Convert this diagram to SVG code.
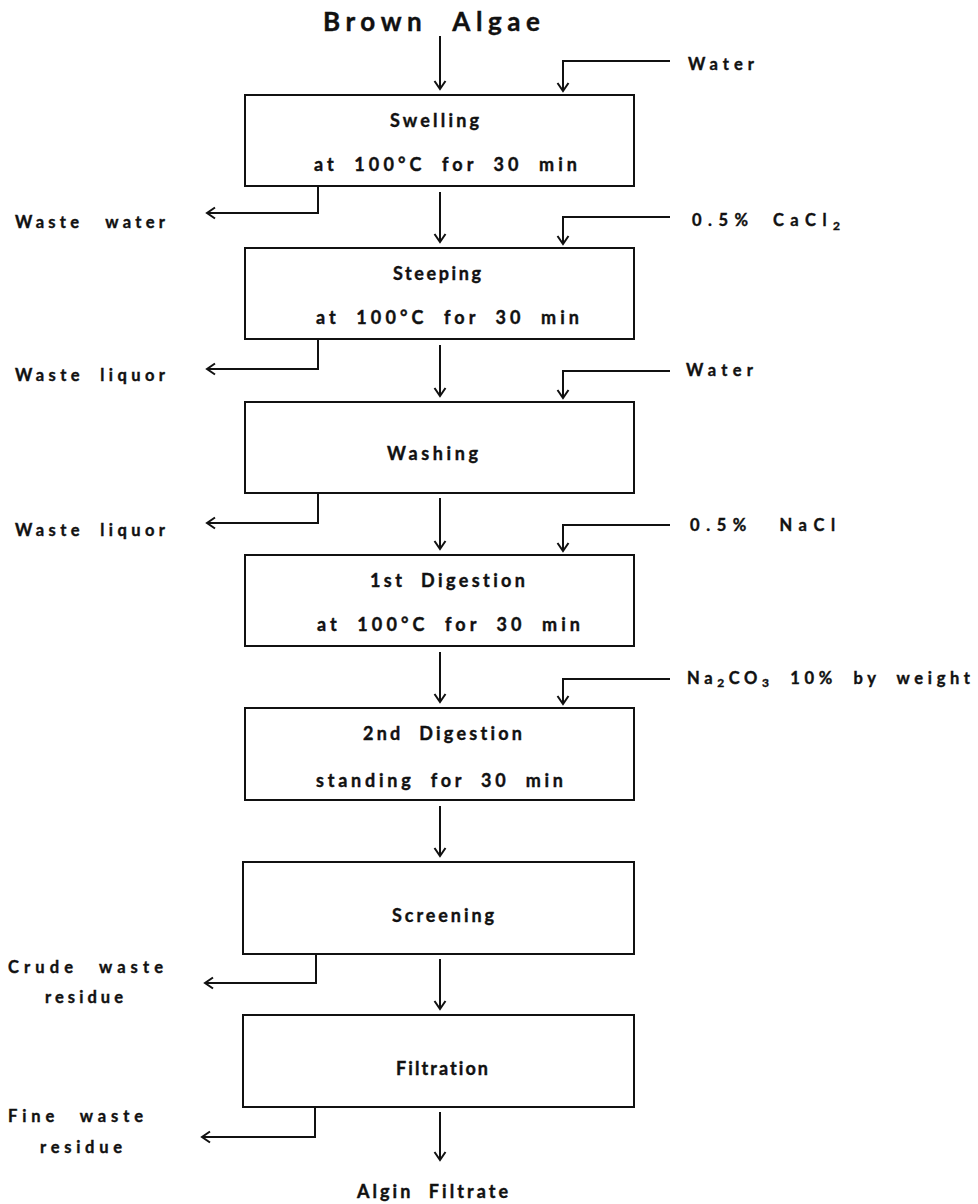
<svg xmlns="http://www.w3.org/2000/svg" width="978" height="1204" viewBox="0 0 978 1204">
<style>
text{font-family:Lato,"DejaVu Sans",sans-serif;font-weight:bold;fill:#111;stroke:#111;stroke-width:0.4;word-spacing:8px;font-variant-ligatures:none;font-feature-settings:"liga" 0,"dlig" 0;}
.t{font-size:18px;}
.s{font-size:16.5px;}
.big{font-size:26px;word-spacing:14px;}
.box{fill:#fff;stroke:#111;stroke-width:2;}
.ln{fill:none;stroke:#111;stroke-width:2;}
.sub{font-size:12px;}
</style>
<defs>
<marker id="ah" viewBox="-10 -7 12 14" refX="0" refY="0" markerWidth="12" markerHeight="14" markerUnits="userSpaceOnUse" orient="auto">
<path d="M -8 -5.5 L 0 0 L -8 5.5" fill="none" stroke="#111" stroke-width="2"/>
</marker>
</defs>
<rect width="978" height="1204" fill="#fff"/>
<text id="src" class="big" x="323" y="31" textLength="217">Brown Algae</text>
<g id="connectors">
<path class="ln" marker-end="url(#ah)" d="M440 36 L440 89"/>
<path class="ln" marker-end="url(#ah)" d="M440 192 L440 242"/>
<path class="ln" marker-end="url(#ah)" d="M440 345 L440 396"/>
<path class="ln" marker-end="url(#ah)" d="M440 498 L440 549"/>
<path class="ln" marker-end="url(#ah)" d="M440 652 L440 702"/>
<path class="ln" marker-end="url(#ah)" d="M440 806 L440 856"/>
<path class="ln" marker-end="url(#ah)" d="M440 959 L440 1009"/>
<path class="ln" marker-end="url(#ah)" d="M440 1112 L440 1160"/>
<path class="ln" marker-end="url(#ah)" d="M670 61 L563 61 L563 91"/>
<path class="ln" marker-end="url(#ah)" d="M670 217 L563 217 L563 244"/>
<path class="ln" marker-end="url(#ah)" d="M670 371 L563 371 L563 398"/>
<path class="ln" marker-end="url(#ah)" d="M670 525 L563 525 L563 551"/>
<path class="ln" marker-end="url(#ah)" d="M670 679 L563 679 L563 704"/>
<path class="ln" marker-end="url(#ah)" d="M318 186 L318 213 L207 213"/>
<path class="ln" marker-end="url(#ah)" d="M318 339 L318 369 L207 369"/>
<path class="ln" marker-end="url(#ah)" d="M318 493 L318 523 L207 523"/>
<path class="ln" marker-end="url(#ah)" d="M316 954 L316 983 L205 983"/>
<path class="ln" marker-end="url(#ah)" d="M315 1107 L315 1137 L202 1137"/>
</g>
<g id="in-water1"><text class="s" x="688" y="70" textLength="66">Water</text></g>
<g id="in-cacl2"><text class="s" x="692" y="226" textLength="148">0.5% CaCl<tspan class="sub" dy="4">2</tspan></text></g>
<g id="in-water2"><text class="s" x="686" y="376" textLength="67">Water</text></g>
<g id="in-nacl"><text class="s" x="690" y="531" textLength="145" style="word-spacing:16px">0.5% NaCl</text></g>
<g id="in-na2co3"><text class="s" x="687" y="684" textLength="283">Na<tspan class="sub" dy="3">2</tspan><tspan dy="-3">CO</tspan><tspan class="sub" dy="3">3</tspan><tspan dy="-3"> 10% by weight</tspan></text></g>
<g id="n-swelling">
<rect class="box" x="245" y="95" width="389" height="91"/>
<text class="t" x="390" y="127" textLength="89">Swelling</text>
<text class="t" x="314" y="171" textLength="263">at 100°C for 30 min</text>
</g>
<g id="n-steeping">
<rect class="box" x="245" y="248" width="389" height="91"/>
<text class="t" x="393" y="280" textLength="88">Steeping</text>
<text class="t" x="316" y="324" textLength="263">at 100°C for 30 min</text>
</g>
<g id="n-washing">
<rect class="box" x="245" y="402" width="389" height="91"/>
<text class="t" x="387" y="460" textLength="91">Washing</text>
</g>
<g id="n-digest1">
<rect class="box" x="245" y="555" width="389" height="91"/>
<text class="t" x="370" y="587" textLength="155">1st Digestion</text>
<text class="t" x="317" y="631" textLength="263">at 100°C for 30 min</text>
</g>
<g id="n-digest2">
<rect class="box" x="245" y="708" width="389" height="92"/>
<text class="t" x="363" y="740" textLength="159">2nd Digestion</text>
<text class="t" x="316" y="787" textLength="247">standing for 30 min</text>
</g>
<g id="n-screening">
<rect class="box" x="243" y="862" width="391" height="92"/>
<text class="t" x="392" y="922" textLength="102">Screening</text>
</g>
<g id="n-filtration">
<rect class="box" x="243" y="1015" width="391" height="92"/>
<text class="t" x="396" y="1075" textLength="92">Filtration</text>
</g>
<g id="out-waste1"><text class="s" x="15" y="228" textLength="150" style="word-spacing:14px">Waste water</text></g>
<g id="out-waste2"><text class="s" x="15" y="381" textLength="150">Waste liquor</text></g>
<g id="out-waste3"><text class="s" x="15" y="536" textLength="150">Waste liquor</text></g>
<g id="out-crude">
<text class="s" x="8" y="973" textLength="155" style="word-spacing:12px">Crude waste</text>
<text class="s" x="45" y="1003" textLength="78">residue</text>
</g>
<g id="out-fine">
<text class="s" x="8" y="1122" textLength="135" style="word-spacing:12px">Fine waste</text>
<text class="s" x="40" y="1153" textLength="82">residue</text>
</g>
<g id="product"><text class="t" x="357" y="1198" textLength="151">Algin Filtrate</text></g>
</svg>
